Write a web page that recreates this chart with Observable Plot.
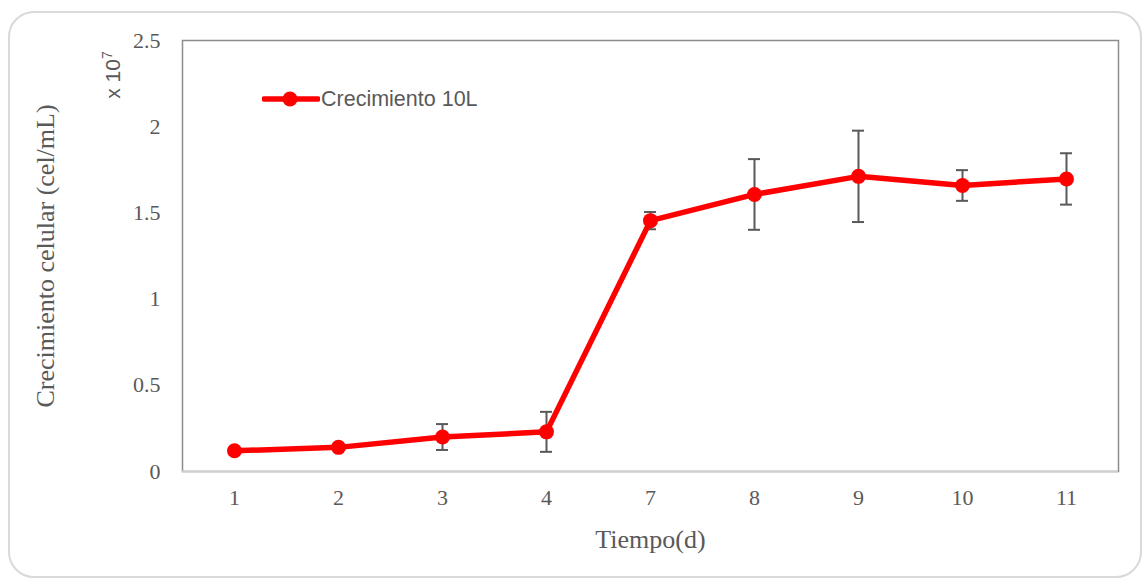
<!DOCTYPE html>
<html>
<head>
<meta charset="utf-8">
<script src="https://cdn.jsdelivr.net/npm/d3@7"></script>
<script src="https://cdn.jsdelivr.net/npm/@observablehq/plot@0.6"></script>
<style>
  html, body { margin: 0; padding: 0; background: #fff; }
  #wrap { position: relative; width: 1142px; height: 581px; overflow: hidden; }
  #frame { position: absolute; left: 8px; top: 11px; width: 1134px; height: 567px; box-sizing: border-box;
           border: 2px solid #d9d9d9; border-radius: 26px; }
  #chart { position: absolute; left: 0; top: 0; }
  #legend { position: absolute; left: 262px; top: 86px; display: flex; align-items: center;
            font-family: "Liberation Sans", Arial, sans-serif; font-size: 21.5px; color: #595959; }
  #exp { position: absolute; left: 112px; top: 75px; transform: translate(-50%, -50%) rotate(-90deg);
         font-family: "Liberation Sans", Arial, sans-serif; font-size: 21px; color: #595959; white-space: nowrap; }
  #exp sup { font-size: 14px; }
</style>
</head>
<body>
<div id="wrap">
  <div id="frame"></div>
  <div id="chart"></div>
  <div id="legend"></div>
  <div id="exp">x 10<sup>7</sup></div>
</div>
<script>
const days = ["1", "2", "3", "4", "7", "8", "9", "10", "11"];
const growth = [0.12, 0.14, 0.20, 0.23, 1.455, 1.607, 1.712, 1.659, 1.697];
const errors = [0, 0, 0.075, 0.116, 0.05, 0.205, 0.265, 0.089, 0.149];
const yTicks = [0, 0.5, 1, 1.5, 2, 2.5];
const seriesName = "Crecimiento 10L";
const xTitle = "Tiempo(d)";
const yTitle = "Crecimiento celular (cel/mL)";

const data = days.map((d, i) => ({day: d, v: growth[i], lo: growth[i] - errors[i], hi: growth[i] + errors[i]}));

const red = "#ff0000";
const errColor = "#595959";

const chart = Plot.plot({
  width: 1142,
  height: 581,
  marginLeft: 182,
  marginRight: 24,
  marginTop: 40,
  marginBottom: 110,
  style: {fontFamily: "'Liberation Serif', 'Times New Roman', serif", fontSize: "22px", color: "#595959", background: "transparent"},
  x: {type: "band", domain: days, padding: 0, label: null},
  y: {domain: [0, 2.5], label: null},
  marks: [
    Plot.frame({stroke: "#8c8c8c", strokeWidth: 1.5}),
    Plot.ruleY([0], {stroke: "#d0d0d0", strokeWidth: 2}),
    Plot.axisX({tickSize: 0, tickPadding: 18, fontSize: 22, label: null}),
    Plot.axisY({ticks: yTicks, tickSize: 0, tickPadding: 22, fontSize: 22, tickFormat: d => String(d), label: null}),
    Plot.text([xTitle], {frameAnchor: "bottom", dy: 58, fontSize: 26, fill: "#595959", lineAnchor: "top"}),
    Plot.text([yTitle], {frameAnchor: "left", dx: -137, rotate: -90, fontSize: 26, fill: "#595959", textAnchor: "middle"}),
    Plot.ruleX(data, {x: "day", y1: "lo", y2: "hi", stroke: errColor, strokeWidth: 2}),
    Plot.tickY(data.filter((d, i) => errors[i] > 0), {x: "day", y: "hi", stroke: errColor, strokeWidth: 2, insetLeft: 46, insetRight: 46}),
    Plot.tickY(data.filter((d, i) => errors[i] > 0), {x: "day", y: "lo", stroke: errColor, strokeWidth: 2, insetLeft: 46, insetRight: 46}),
    Plot.line(data, {x: "day", y: "v", stroke: red, strokeWidth: 5.5}),
    Plot.dot(data, {x: "day", y: "v", r: 7.5, fill: red, stroke: "none"})
  ]
});
document.getElementById("chart").appendChild(chart);

document.getElementById("legend").innerHTML =
  `<svg width="58" height="26" style="margin-right:1px"><line x1="2" x2="56" y1="13" y2="13" stroke="${red}" stroke-width="5.5" stroke-linecap="round"/><circle cx="28" cy="13" r="7.5" fill="${red}"/></svg><span>${seriesName}</span>`;
</script>
</body>
</html>
